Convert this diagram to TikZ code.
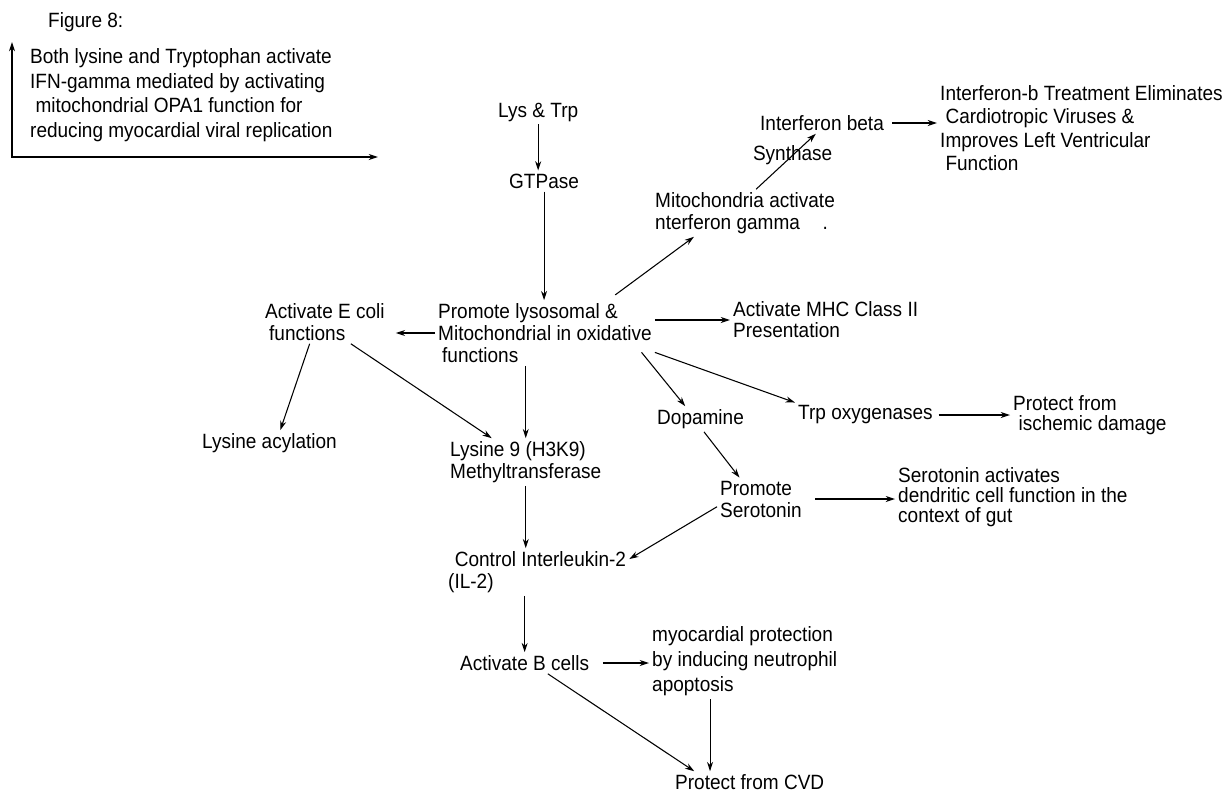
\documentclass[tikz,border=0pt]{standalone}
\usepackage{fontspec}
\setmainfont[FakeStretch=0.92]{Liberation Sans}
\usetikzlibrary{arrows.meta}

\begin{document}
\begin{tikzpicture}[x=0.75pt,y=-0.75pt,>={Stealth[length=7pt,width=4.5pt]},
  line width=0.8pt,font=\fontsize{15.5pt}{16.5pt}\selectfont,
  txt/.style={inner sep=2pt,align=left,anchor=west}]
\useasboundingbox (0,0) rectangle (1227,793);
% heading and the corner axes
\node[txt] (fig) at (45,22) {Figure 8:};
\node[txt,font=\fontsize{15.5pt}{18.5pt}\selectfont] (both) at (27,95)
  {Both lysine and Tryptophan activate\\IFN-gamma mediated by activating\\
   \hspace*{4pt}mitochondrial OPA1 function for\\reducing myocardial viral replication};
\coordinate (orig) at (12,157);
\coordinate (ytip) at (12,42);
\coordinate (xtip) at (378,157);
\draw[<->] (ytip) -- (orig) -- (xtip);

% main column
\node[txt] (lys) at (495,112) {Lys \& Trp};
\node[txt] (gtp) at (506,181) {GTPase};
\node[txt] (prom) at (435,333) {Promote lysosomal \&\\Mitochondrial in oxidative\\\hspace*{3pt}functions};
\node[txt] (ecoli) at (262,322) {Activate E coli\\\hspace*{3pt}functions};
\node[txt] (acyl) at (199,443) {Lysine acylation};
\node[txt] (lys9) at (447,462) {Lysine 9 (H3K9)\\Methyltransferase};
\node[txt] (il2) at (445,572) {\hspace*{5pt}Control Interleukin-2\\(IL-2)};
\node[txt] (bcell) at (457,663) {Activate B cells};
\node[txt,font=\fontsize{15.5pt}{19pt}\selectfont] (myo) at (649,661)
  {myocardial protection\\by inducing neutrophil\\apoptosis};
\node[txt] (cvd) at (672,782) {Protect from CVD};

% right branches
\node[txt] (mito) at (652,213) {Mitochondria activate\\nterferon gamma\hspace{1.1em}.};
\node[txt] (ifnb) at (757,123) {Interferon beta};
\node[txt,font=\fontsize{15.5pt}{17.5pt}\selectfont] (ifnt) at (937,128)
  {Interferon-b Treatment Eliminates\\\hspace*{4pt}Cardiotropic Viruses \&\\
   Improves Left Ventricular\\\hspace*{4pt}Function};
\node[txt,font=\fontsize{15.5pt}{15.8pt}\selectfont] (mhc) at (730,320) {Activate MHC Class II\\Presentation};
\node[txt] (dopa) at (654,419) {Dopamine};
\node[txt] (trp) at (795,415) {Trp oxygenases};
\node[txt,font=\fontsize{15.5pt}{15pt}\selectfont] (isch) at (1010,415) {Protect from\\\hspace*{4pt}ischemic damage};
\node[txt] (sero) at (717,499) {Promote\\Serotonin};
\node[txt,font=\fontsize{15.5pt}{15pt}\selectfont] (seroact) at (895,497)
  {Serotonin activates\\dendritic cell function in the\\context of gut};

% arrows
\draw[->] (lys) -- (lys |- gtp.north);
\draw[->] (gtp) -- (gtp |- prom.north);
\draw[->] ([yshift=4pt]prom.25) -- (mito.205);
\draw[->] (mito.65) -- (ifnb.240) node[midway,xshift=5pt,yshift=5pt] (syn) {Synthase};
\draw[->,shorten <=4pt] (ifnb.east) -- (ifnb.east -| ifnt.west);
\draw[->] (mhc.west -| prom.east) -- (mhc.west);
\draw[->,shorten >=6pt] (prom.west) -- (prom.west -| ecoli.east);
\draw[->] (ecoli.235) -- (acyl.50);
\draw[->] (ecoli.320) -- (lys9.145);
\draw[->] (prom.south -| lys9.north) -- (lys9.north);
\draw[->] ([xshift=-10pt]prom.-10) -- (dopa.140);
\draw[->] (prom.-10) -- (trp.north west);
\draw[->,shorten <=2pt] (trp.east) -- (trp.east -| isch.west);
\draw[->] (dopa.285) -- (sero.135);
\draw[->] ([xshift=8pt]sero.east) -- (sero.east -| seroact.west);
\draw[->] (sero.190) -- (il2.8);
\draw[->] (lys9.south) -- (lys9.south |- il2.north);
\draw[->] (bcell.north |- il2.south) -- (bcell.north);
\draw[->,shorten <=8pt] (bcell.east) -- (bcell.east -| myo.west);
\draw[->] ([xshift=-26pt]myo.south) -- ([xshift=-26pt]myo.south |- cvd.north);
\draw[->] (bcell.-25) -- (cvd.169);
\end{tikzpicture}
\end{document}
